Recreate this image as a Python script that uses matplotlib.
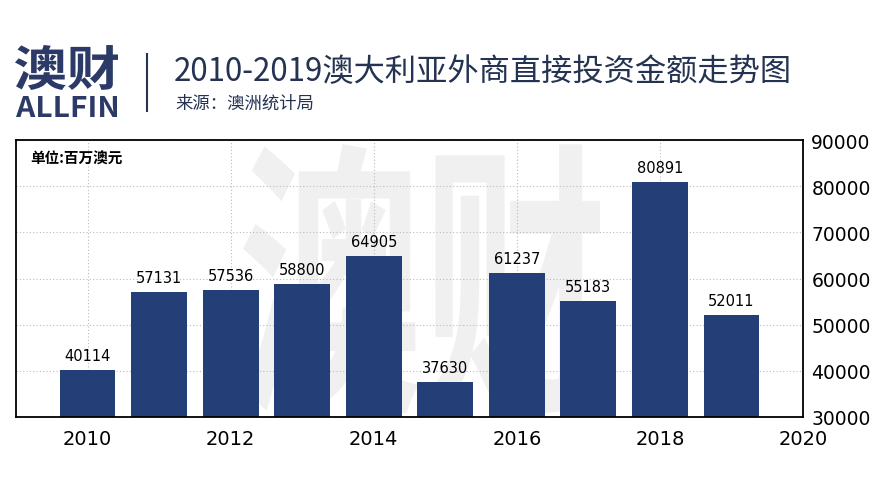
import matplotlib
matplotlib.use('Agg')
import matplotlib.pyplot as plt
from matplotlib.textpath import TextPath
from matplotlib.patches import PathPatch
from matplotlib.font_manager import FontProperties
from matplotlib.transforms import Affine2D, IdentityTransform

plt.rcParams['font.family'] = ['Noto Sans CJK SC', 'DejaVu Sans']

years = [2010, 2011, 2012, 2013, 2014, 2015, 2016, 2017, 2018, 2019]
values = [40114, 57131, 57536, 58800, 64905, 37630, 61237, 55183, 80891, 52011]
x_ticks = [2010, 2012, 2014, 2016, 2018, 2020]
y_ticks = [30000, 40000, 50000, 60000, 70000, 80000, 90000]

title = '2010-2019澳大利亚外商直接投资金额走势图'
source = '来源：澳洲统计局'
unit = '单位:百万澳元'

NAVY = '#243f78'
TEXT_NAVY = '#243352'

W, H = 882, 489
fig = plt.figure(figsize=(W / 100, H / 100), dpi=100)
ax = fig.add_axes([16 / W, 1 - 418 / H, (803 - 16) / W, (418 - 141) / H])


def stretched_text(s, x0, y0, x1, y1, color, zorder, target, weight='bold'):
    # place text path so it fills the pixel box (top-left origin)
    fp = FontProperties(family='Noto Sans CJK SC', weight=weight)
    tp = TextPath((0, 0), s, size=1, prop=fp)
    ext = tp.get_extents()
    sx = (x1 - x0) / ext.width
    sy = (y1 - y0) / ext.height
    tr = Affine2D().translate(-ext.x0, -ext.y0).scale(sx, sy).translate(x0, H - y1)
    patch = PathPatch(tr.transform_path(tp), facecolor=color, edgecolor='none',
                      transform=IdentityTransform(), zorder=zorder)
    target.add_artist(patch)
    return patch


# watermark behind the bars
stretched_text('澳财', 243, 145, 600, 415, '#f0f0f0', 0.3, ax)

ax.bar(years, values, width=0.78, color=NAVY, zorder=2)
for x, v in zip(years, values):
    ax.text(x, v + 1500, str(v), ha='center', va='bottom', fontsize=10.5,
            family='DejaVu Sans', color='black', zorder=3)

ax.set_xlim(2009.0, 2020.0)
ax.set_ylim(30000, 90000)
ax.set_xticks(x_ticks)
ax.set_yticks(y_ticks)
ax.yaxis.tick_right()
ax.tick_params(axis='both', length=0)
ax.tick_params(axis='y', pad=6)
ax.tick_params(axis='x', pad=9)
for lab in ax.get_yticklabels():
    lab.set_family('DejaVu Sans')
    lab.set_fontsize(13.5)
for lab in ax.get_xticklabels():
    lab.set_family('DejaVu Sans')
    lab.set_fontsize(14)

ax.grid(True, linestyle=(0, (1, 2)), color='#bbbbbb', linewidth=0.8, zorder=0.5)
ax.set_axisbelow(True)
for sp in ax.spines.values():
    sp.set_color('black')
    sp.set_linewidth(1.3)

ax.text(0.018, 0.965, unit, transform=ax.transAxes, ha='left', va='top',
        fontsize=10.5, fontweight='bold', color='black')

# header: logo, divider, title, source
stretched_text('澳财', 15, 46, 118, 91, '#2b3a67', 3, fig)
stretched_text('ALLFIN', 16, 97, 117, 118, '#2b3a67', 3, fig, weight='black')
fig.add_artist(plt.Line2D([147 / W, 147 / W], [1 - 55 / H, 1 - 112 / H],
                          color=TEXT_NAVY, linewidth=1.5))
fig.text(174 / W, 1 - 72 / H, title, ha='left', va='center', fontsize=22.5,
         color=TEXT_NAVY)
fig.text(175 / W, 1 - 104 / H, source, ha='left', va='center', fontsize=12.5,
         color=TEXT_NAVY)

fig.savefig('out.png', dpi=100)
